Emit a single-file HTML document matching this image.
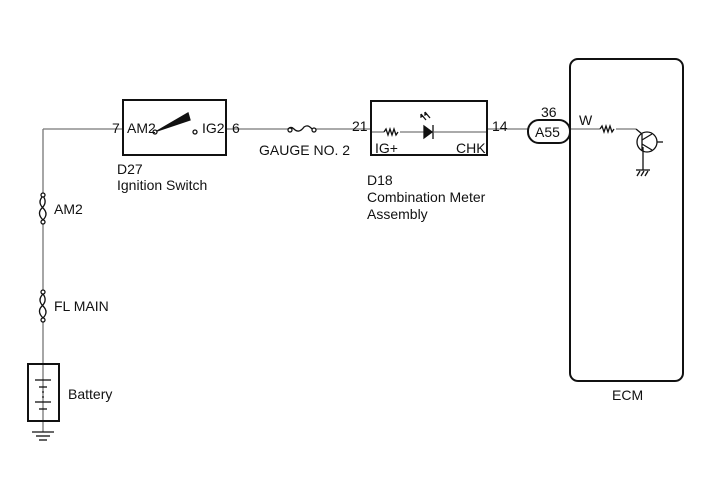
<!DOCTYPE html>
<html><head><style>body{margin:0;background:#fff}svg{display:block}text{font-family:"Liberation Sans",sans-serif;font-size:14px;fill:#111}</style></head><body>
<svg width="713" height="481" viewBox="0 0 713 481">
<g stroke="#777" stroke-width="1.3" fill="none">
<line x1="43" y1="129" x2="123" y2="129"/>
<line x1="43" y1="129" x2="43" y2="195"/>
<line x1="43" y1="222" x2="43" y2="292"/>
<line x1="43" y1="320" x2="43" y2="432"/>
<line x1="226" y1="129" x2="288" y2="129"/>
<line x1="316" y1="129" x2="371" y2="129"/>
<line x1="487" y1="129" x2="528" y2="129"/>
<line x1="570" y1="129" x2="600" y2="129"/>
<line x1="616" y1="129" x2="636" y2="129"/>
<line x1="371" y1="132" x2="384" y2="132"/>
<line x1="400" y1="132" x2="424" y2="132"/>
<line x1="434" y1="132" x2="487" y2="132"/>
</g>
<g stroke="#111" stroke-width="2" fill="none">
<rect x="123" y="100" width="103" height="55"/>
<rect x="371" y="101" width="116" height="54"/>
<rect x="570" y="59" width="113" height="322" rx="8"/>
<rect x="528" y="120" width="42" height="23" rx="11"/>
<rect x="28" y="364" width="31" height="57"/>
</g>
<g stroke="#111" stroke-width="1.3" fill="none">
<circle cx="155" cy="132" r="2" fill="#fff"/>
<circle cx="195" cy="132" r="2" fill="#fff"/>
<path d="M157 131 L188 113 L190 120 Z" fill="#111"/>
<path d="M288 129 q3 -3 6 0 q5 5 10 -2 q4 -3 8 2" />
<circle cx="290" cy="130" r="2" fill="#fff"/><circle cx="314" cy="130" r="2" fill="#fff"/>
<path d="M384 132 l2 -3 l2 6 l2 -6 l2 6 l2 -6 l2 6 l2 -3"/>
<path d="M600 129 l2 -3 l2 6 l2 -6 l2 6 l2 -6 l2 6 l2 -3"/>
<path d="M424 126 l8 6 l-8 6 z" fill="#111"/><line x1="433" y1="125" x2="433" y2="139"/>
<path d="M426 120 l-5 -6 M430 118 l-5 -6"/>
<path d="M421 114 l0 3 l2 -1 M425 112 l0 3 l2 -1"/>
<circle cx="647" cy="142" r="10"/>
<line x1="642" y1="134" x2="642" y2="150"/>
<line x1="636" y1="129" x2="642" y2="134" />
<line x1="642" y1="140" x2="652" y2="134"/>
<line x1="642" y1="144" x2="652" y2="150"/>
<line x1="657" y1="142" x2="663" y2="142"/>
<line x1="643" y1="147" x2="643" y2="170"/>
<line x1="636" y1="170" x2="650" y2="170"/>
<path d="M637 176 l3 -5 M641 176 l3 -5 M645 176 l3 -5"/>
<path d="M43 196 c-4 4 -4 8 0 12 c4 4 4 8 0 12 M43 196 c3 4 3 8 -1 12 c-4 4 -3 8 1 12"/>
<path d="M43 294 c-4 4 -4 8 0 12 c4 4 4 8 0 12 M43 294 c3 4 3 8 -1 12 c-4 4 -3 8 1 12"/>
<circle cx="43" cy="195" r="2" fill="#fff"/><circle cx="43" cy="222" r="2" fill="#fff"/>
<circle cx="43" cy="292" r="2" fill="#fff"/><circle cx="43" cy="320" r="2" fill="#fff"/>
<line x1="35" y1="380" x2="51" y2="380"/><line x1="39" y1="387" x2="47" y2="387"/>
<line x1="43" y1="391" x2="43" y2="393"/><line x1="43" y1="396" x2="43" y2="398"/>
<line x1="35" y1="402" x2="51" y2="402"/><line x1="39" y1="409" x2="47" y2="409"/>
<line x1="32" y1="432" x2="54" y2="432"/><line x1="36" y1="436" x2="50" y2="436"/><line x1="39" y1="440" x2="47" y2="440"/>
</g>
<text x="112" y="133">7</text><text x="127" y="133">AM2</text><text x="202" y="133">IG2</text><text x="232" y="133">6</text>
<text x="259" y="155">GAUGE NO. 2</text>
<text x="117" y="174">D27</text><text x="117" y="190">Ignition Switch</text>
<text x="352" y="131">21</text><text x="375" y="153">IG+</text><text x="456" y="153">CHK</text><text x="492" y="131">14</text>
<text x="367" y="185">D18</text><text x="367" y="202">Combination Meter</text><text x="367" y="219">Assembly</text>
<text x="541" y="117">36</text><text x="535" y="137">A55</text><text x="579" y="125">W</text>
<text x="54" y="214">AM2</text><text x="54" y="311">FL MAIN</text><text x="68" y="399">Battery</text>
<text x="612" y="400">ECM</text>
</svg></body></html>
